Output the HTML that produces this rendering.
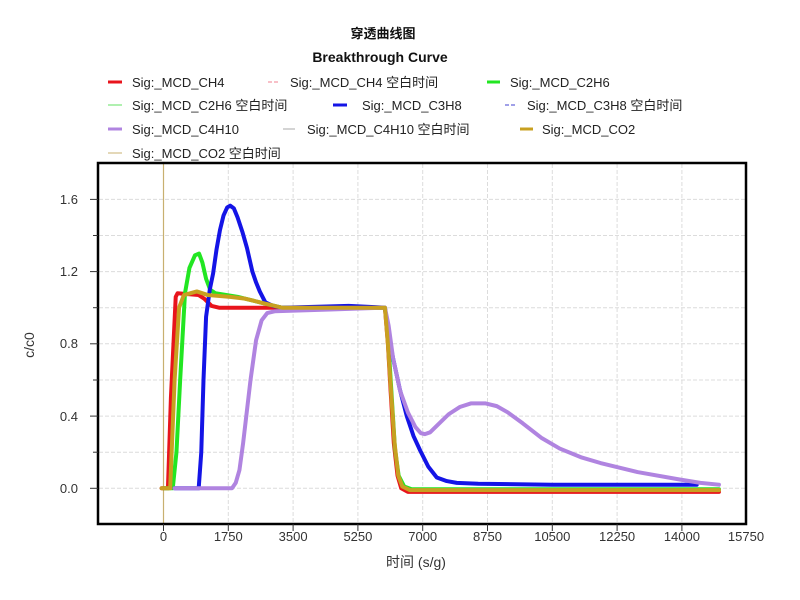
<!DOCTYPE html>
<html><head><meta charset="utf-8"><style>
html,body{margin:0;padding:0;background:#fff;}
svg{display:block;font-family:"Liberation Sans","Noto Sans CJK SC",sans-serif;}
</style></head><body>
<svg width="800" height="600" viewBox="0 0 800 600" xmlns="http://www.w3.org/2000/svg">
<rect width="800" height="600" fill="#fff"/>
<text x="383" y="38" font-size="13" font-weight="bold" text-anchor="middle" fill="#111">穿透曲线图</text>
<text x="380" y="62" font-size="14" font-weight="bold" text-anchor="middle" fill="#111">Breakthrough Curve</text>
<g font-size="13" fill="#222">
<line x1="108" y1="82" x2="122" y2="82" stroke="#e8141c" stroke-width="3"/><text x="132" y="87">Sig:_MCD_CH4</text>
<line x1="268" y1="82" x2="280" y2="82" stroke="#f08090" stroke-width="1" stroke-dasharray="4,2"/><text x="290" y="87">Sig:_MCD_CH4 空白时间</text>
<line x1="487" y1="82" x2="500" y2="82" stroke="#22e622" stroke-width="3"/><text x="510" y="87">Sig:_MCD_C2H6</text>
<line x1="108" y1="105" x2="122" y2="105" stroke="#60e060" stroke-width="1"/><text x="132" y="110">Sig:_MCD_C2H6 空白时间</text>
<line x1="333" y1="105" x2="347" y2="105" stroke="#1414e6" stroke-width="3"/><text x="362" y="110">Sig:_MCD_C3H8</text>
<line x1="505" y1="105" x2="517" y2="105" stroke="#4040d0" stroke-width="1" stroke-dasharray="4,2"/><text x="527" y="110">Sig:_MCD_C3H8 空白时间</text>
<line x1="108" y1="129" x2="122" y2="129" stroke="#b084e0" stroke-width="3"/><text x="132" y="134">Sig:_MCD_C4H10</text>
<line x1="283" y1="129" x2="295" y2="129" stroke="#aaa" stroke-width="1"/><text x="307" y="134">Sig:_MCD_C4H10 空白时间</text>
<line x1="520" y1="129" x2="533" y2="129" stroke="#c8a020" stroke-width="3"/><text x="542" y="134">Sig:_MCD_CO2</text>
<line x1="108" y1="153" x2="122" y2="153" stroke="#c8b070" stroke-width="1"/><text x="132" y="158">Sig:_MCD_CO2 空白时间</text>
</g>
<g stroke="#dcdcdc" stroke-width="1" stroke-dasharray="4,2">
<line x1="228.3" y1="164" x2="228.3" y2="523"/><line x1="293.1" y1="164" x2="293.1" y2="523"/><line x1="357.9" y1="164" x2="357.9" y2="523"/><line x1="422.7" y1="164" x2="422.7" y2="523"/><line x1="487.5" y1="164" x2="487.5" y2="523"/><line x1="552.3" y1="164" x2="552.3" y2="523"/><line x1="617.1" y1="164" x2="617.1" y2="523"/><line x1="681.9" y1="164" x2="681.9" y2="523"/>
<line x1="99" y1="199.4" x2="746" y2="199.4"/><line x1="99" y1="235.5" x2="746" y2="235.5"/><line x1="99" y1="271.6" x2="746" y2="271.6"/><line x1="99" y1="307.7" x2="746" y2="307.7"/><line x1="99" y1="343.8" x2="746" y2="343.8"/><line x1="99" y1="380" x2="746" y2="380"/><line x1="99" y1="416.1" x2="746" y2="416.1"/><line x1="99" y1="452.2" x2="746" y2="452.2"/><line x1="99" y1="488.3" x2="746" y2="488.3"/>
</g>
<line x1="163.5" y1="164" x2="163.5" y2="523" stroke="#c8b070" stroke-width="1.2"/>
<g transform="matrix(0.03703,0,0,-180.6,163.5,488.3)" fill="none" stroke-width="4" stroke-linejoin="round" stroke-linecap="round">
<path vector-effect="non-scaling-stroke" stroke="#e8141c" d="M-50 0 L120 0 L200 0.5 L330 1.06 L380 1.08 L950 1.07 L1100 1.05 L1300 1.01 L1500 1.0 L5980 1.0 L6060 0.8 L6130 0.55 L6220 0.25 L6320 0.07 L6420 0.0 L6600 -0.02 L15000 -0.02"/>
<path vector-effect="non-scaling-stroke" stroke="#22e622" d="M0 0 L250 0 L350 0.2 L450 0.6 L580 1.08 L700 1.22 L850 1.29 L960 1.3 L1050 1.25 L1150 1.16 L1260 1.1 L1400 1.08 L2000 1.06 L2600 1.03 L3200 1.0 L5980 1.0 L6060 0.85 L6150 0.55 L6250 0.22 L6350 0.07 L6500 0.01 L6700 -0.005 L15000 -0.005"/>
<path vector-effect="non-scaling-stroke" stroke="#1414e6" d="M300 0 L950 0 L1020 0.2 L1080 0.6 L1150 0.95 L1250 1.1 L1340 1.19 L1430 1.32 L1525 1.43 L1620 1.51 L1720 1.555 L1800 1.565 L1900 1.55 L2000 1.5 L2130 1.42 L2255 1.33 L2400 1.2 L2500 1.14 L2600 1.09 L2750 1.03 L2960 1.01 L3200 1.0 L5000 1.01 L5980 1.0 L6080 0.85 L6200 0.72 L6380 0.55 L6570 0.4 L6750 0.29 L6930 0.21 L7150 0.12 L7380 0.06 L7650 0.04 L7920 0.03 L8500 0.025 L10500 0.02 L14400 0.02"/>
<path vector-effect="non-scaling-stroke" stroke="#b084e0" d="M300 0 L1850 0 L1950 0.03 L2050 0.1 L2150 0.25 L2350 0.6 L2500 0.82 L2650 0.93 L2800 0.97 L3000 0.98 L4500 0.99 L5980 1.0 L6080 0.9 L6200 0.72 L6390 0.54 L6600 0.42 L6800 0.34 L6950 0.305 L7060 0.3 L7200 0.31 L7400 0.35 L7700 0.41 L8000 0.45 L8300 0.47 L8700 0.47 L9000 0.455 L9300 0.42 L9700 0.36 L10200 0.28 L10700 0.22 L11300 0.17 L11800 0.14 L12800 0.09 L13900 0.05 L14500 0.03 L15000 0.02"/>
<path vector-effect="non-scaling-stroke" stroke="#c8a020" d="M-50 0 L180 0 L300 0.6 L420 1.0 L550 1.07 L900 1.09 L1200 1.07 L1800 1.06 L2200 1.05 L2600 1.03 L3200 1.0 L5980 1.0 L6060 0.8 L6140 0.55 L6240 0.25 L6340 0.07 L6450 0.01 L6650 -0.01 L15000 -0.01"/>
</g>
<rect x="98" y="163" width="648" height="361" fill="none" stroke="#000" stroke-width="2.5"/>
<g stroke="#333" stroke-width="1">
<line x1="90" y1="199.4" x2="98" y2="199.4"/><line x1="93" y1="235.5" x2="98" y2="235.5"/><line x1="90" y1="271.6" x2="98" y2="271.6"/><line x1="93" y1="307.7" x2="98" y2="307.7"/><line x1="90" y1="343.8" x2="98" y2="343.8"/><line x1="93" y1="380" x2="98" y2="380"/><line x1="90" y1="416.1" x2="98" y2="416.1"/><line x1="93" y1="452.2" x2="98" y2="452.2"/><line x1="90" y1="488.3" x2="98" y2="488.3"/>
<line x1="163.5" y1="524" x2="163.5" y2="531"/><line x1="228.3" y1="524" x2="228.3" y2="531"/><line x1="293.1" y1="524" x2="293.1" y2="531"/><line x1="357.9" y1="524" x2="357.9" y2="531"/><line x1="422.7" y1="524" x2="422.7" y2="531"/><line x1="487.5" y1="524" x2="487.5" y2="531"/><line x1="552.3" y1="524" x2="552.3" y2="531"/><line x1="617.1" y1="524" x2="617.1" y2="531"/><line x1="681.9" y1="524" x2="681.9" y2="531"/>
</g>
<g font-size="13" fill="#333" text-anchor="end">
<text x="78" y="204">1.6</text><text x="78" y="276">1.2</text><text x="78" y="348">0.8</text><text x="78" y="421">0.4</text><text x="78" y="493">0.0</text>
</g>
<g font-size="13" fill="#333" text-anchor="middle">
<text x="163.5" y="541">0</text><text x="228.3" y="541">1750</text><text x="293.1" y="541">3500</text><text x="357.9" y="541">5250</text><text x="422.7" y="541">7000</text><text x="487.5" y="541">8750</text><text x="552.3" y="541">10500</text><text x="617.1" y="541">12250</text><text x="681.9" y="541">14000</text><text x="746" y="541">15750</text>
</g>
<text x="416" y="567" font-size="14" fill="#333" text-anchor="middle">时间 (s/g)</text>
<text transform="translate(34,345) rotate(-90)" font-size="14" fill="#333" text-anchor="middle">c/c0</text>
</svg>
</body></html>
